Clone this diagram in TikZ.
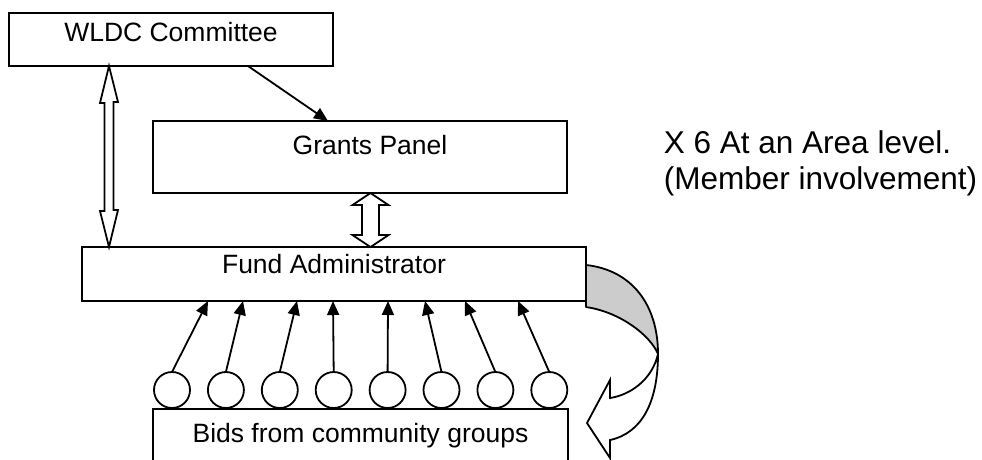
\documentclass[tikz,border=0pt]{standalone}
\usepackage{fontspec}
\newfontfamily\arialfont{Liberation Sans}
\usetikzlibrary{arrows.meta}

\begin{document}
\begin{tikzpicture}[x=1pt, y=-1pt, line width=1.8pt,
		box_style/.style={draw=black, anchor=north west, inner sep=0pt, outer sep=0pt, font=\arialfont\fontsize{26.5}{31}\selectfont},
		bid_style/.style={circle, draw=black, fill=white, minimum size=36pt, inner sep=0pt, outer sep=0pt},
		note_style/.style={anchor=north west, align=left, inner sep=0pt, font=\arialfont\fontsize{31.5}{36}\selectfont},
		edge_style/.style={draw=black, -{Triangle[length=14pt,width=12pt]}},
		block_style/.style={draw=black, fill=white, line join=miter}]
		
		\useasboundingbox (0,0) rectangle (982,459);
		
		\node[box_style, minimum width=324pt, text height=28pt, text depth=25pt] (wldc) at (9,13) {WLDC Committee};
		\node[box_style, minimum width=414pt, text height=33pt, text depth=39pt] (panel) at (153,121) {\hspace*{20pt}Grants Panel};
		\node[box_style, minimum width=504pt, text height=26pt, text depth=28pt] (fund) at (82,247) {Fund Administrator};
		\node[box_style, minimum width=415pt, text height=33pt, text depth=30pt] (bids) at (153,409) {Bids from community groups};
		\node[note_style] (note) at (663,130) {X 6 At an Area level.\\(Member involvement)};
		
		% bids
		\foreach \i in {1,...,8}
			\node[bid_style] (b\i) at ({172+53.9*(\i-1)},390) {};
		\foreach \i/\t in {1/126,2/161,3/215,4/251,5/306,6/343,7/383,8/436}
			\draw[edge_style] (b\i.north) -- ([xshift=\t]fund.south west);
		
		\draw[edge_style] ([xshift=239]wldc.south west) -- ([xshift=175]panel.north west);
		
		% double arrows
		\coordinate (l1) at ([xshift=100]wldc.south west);
		\coordinate (l2) at (l1 |- fund.north);
		\draw[block_style] (l1) -- ++(9,36) -- ++(-4.5,0) -- ++(0,108) -- ++(4.5,0) -- (l2)
			-- ++(-9,-36) -- ++(4.5,0) -- ++(0,-108) -- ++(-4.5,0) -- cycle;
		
		\coordinate (m1) at ([xshift=217.5]panel.south west);
		\coordinate (m2) at (m1 |- fund.north);
		\draw[block_style] (m1) -- ++(18,12) -- ++(-9.5,0) -- ++(0,30) -- ++(9.5,0) -- (m2)
			-- ++(-18,-12) -- ++(9.5,0) -- ++(0,-30) -- ++(-9.5,0) -- cycle;
		
		% curved arrow back to the bids
		\draw[fill=black!20, line join=round] (586,265) .. controls (632,270) and (658,305) .. (658,354)
			.. controls (650,335) and (620,312) .. (586,307) -- cycle;
		\draw[block_style] (658,354) .. controls (658,402) and (642,433) .. (610,440) -- (610,458) -- (587,423)
			-- (610,380) -- (610,398) .. controls (630,395) and (652,380) .. (658,354) -- cycle;
		
\end{tikzpicture}
\end{document}
